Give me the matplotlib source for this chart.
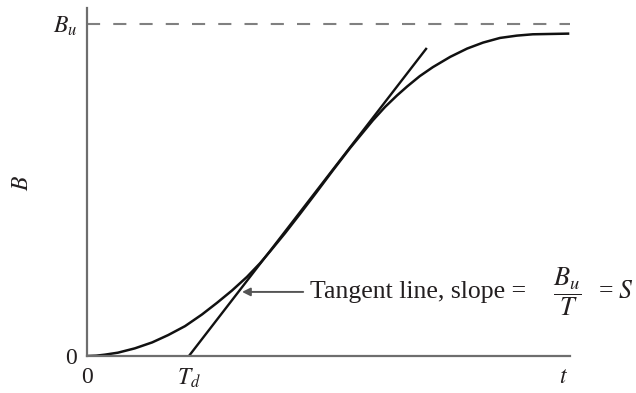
import matplotlib
matplotlib.use("Agg")
import matplotlib.pyplot as plt
import numpy as np

plt.rcParams['font.family'] = ['Liberation Serif', 'DejaVu Serif']
plt.rcParams['mathtext.fontset'] = 'stix'

# growth curve B(t), B in units of Bu
t = [0.00, 0.19, 0.37, 0.64, 0.99, 1.35, 1.68, 2.03, 2.38, 2.69, 3.00,
     3.31, 3.58, 3.79, 4.10, 4.41, 4.74, 5.09, 5.45, 5.92, 6.17, 6.42,
     6.63, 6.89, 7.16, 7.52, 7.87, 8.20, 8.55, 8.90, 9.23, 9.59, 9.96]
B = [0.000, 0.001, 0.004, 0.010, 0.023, 0.041, 0.063, 0.090, 0.125, 0.160, 0.197,
     0.238, 0.279, 0.315, 0.370, 0.428, 0.491, 0.559, 0.627, 0.710, 0.750, 0.785,
     0.812, 0.843, 0.870, 0.901, 0.926, 0.944, 0.958, 0.965, 0.969, 0.970, 0.971]
Bu = 1.0

# tangent line at the inflection point
Td = 2.11
t_end = 7.02
slope = 0.1884

txt = '#231f20'
fig = plt.figure(figsize=(6.36, 3.93), dpi=100)
ax = fig.add_axes([87/636, 37/393, 483/636, 348/393])
ax.set_xlim(0, 10)
ax.set_ylim(0, 348/332)

axis_gray = '#6e6e6e'
for side in ['top', 'right']:
    ax.spines[side].set_visible(False)
for side in ['left', 'bottom']:
    ax.spines[side].set_color(axis_gray)
    ax.spines[side].set_linewidth(1.6)

ax.axhline(Bu, color='#808080', lw=1.5, ls=(0, (6.3, 6.3)))
ax.plot(t, B, color='#111111', lw=1.8, solid_joinstyle='round')
ax.plot([Td, t_end], [0, slope*(t_end - Td)], color='#111111', lw=1.7)

ax.set_xticks([0, Td, 9.86])
ax.set_xticklabels(['0', '$T_d$', '$t$'], fontsize=17)
ax.set_yticks([0, Bu])
ax.set_yticklabels(['0', '$B_u$'], fontsize=17)
ax.tick_params(length=0, colors=txt)
ax.tick_params(axis='x', pad=8)
ax.tick_params(axis='y', pad=7)
fig.text(22/636, 1 - 183/393, '$B$', fontsize=17, rotation=90,
         ha='center', va='center', color=txt)

# tangent label with arrow
yl = 0.193
ax.annotate('Tangent line, slope =', xy=(3.21, yl), xytext=(4.62, yl),
            fontsize=18.5, va='center', ha='left', color=txt,
            arrowprops=dict(arrowstyle='-|>', color='#555555', lw=1.4,
                            mutation_scale=12, shrinkA=3, shrinkB=0))
ax.text(9.94, yl, r'$\dfrac{B_u}{T}$', fontsize=19, ha='center', va='center',
        color=txt)
ax.text(10.58, yl, '= $S$', fontsize=18.5, ha='left', va='center', color=txt)

fig.savefig('out.png', dpi=100)
